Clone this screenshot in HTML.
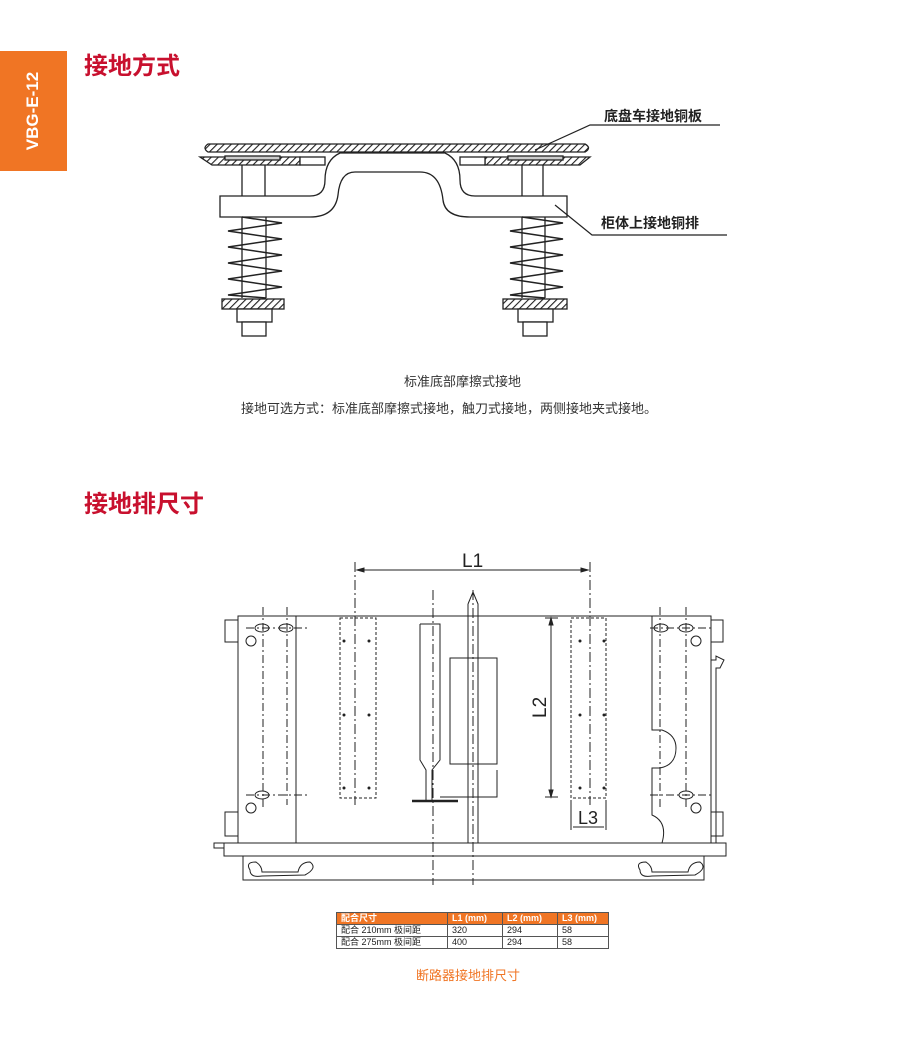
<!DOCTYPE html>
<html><head><meta charset="utf-8"><style>
body{margin:0;background:#fff;width:911px;height:1053px;overflow:hidden;position:relative;font-family:"Liberation Sans","Noto Sans CJK SC",sans-serif}
.tab{position:absolute;left:0;top:51px;width:67px;height:120px;background:#f07524}
.tab span{position:absolute;left:33px;top:60px;transform:translate(-50%,-50%) rotate(-90deg);color:#fff;font-weight:bold;font-size:17px;white-space:nowrap}
h2{position:absolute;margin:0;color:#c8102e;font-size:24px;font-weight:bold;left:84px}
.t{position:absolute;font-size:13px;color:#333;white-space:nowrap}
table{position:absolute;left:336px;top:912px;border-collapse:collapse;font-size:9px;color:#222}
td{border:1px solid #555;padding:0 4px;height:11px;line-height:11px}
tr.h td{background:#f07524;color:#fff;font-weight:bold}
</style></head><body>
<div class="tab"><span>VBG-E-12</span></div>
<h2 style="top:46px">接地方式</h2>
<h2 style="top:484px">接地排尺寸</h2>
<svg width="911" height="1053" style="position:absolute;left:0;top:0" fill="none" stroke="#222" stroke-width="1.3">
<defs><pattern id="hat" width="5" height="5" patternUnits="userSpaceOnUse" patternTransform="rotate(45)"><rect width="5" height="5" fill="#fff" stroke="none"/><line x1="0" y1="0" x2="0" y2="5" stroke="#222" stroke-width="2.2"/></pattern></defs>
<!-- top plate -->
<path d="M208 144 L585 144 Q592 148 585 152 L208 152 Q202 148 208 144Z" fill="url(#hat)"/>
<path d="M200 157 L300 157 L300 165 L212 165Z" fill="url(#hat)"/>
<rect x="300" y="157" width="25" height="8" fill="#fff"/>
<path d="M485 157 L590 157 L580 165 L485 165Z" fill="url(#hat)"/>
<rect x="460" y="157" width="25" height="8" fill="#fff"/>
<rect x="225" y="156" width="55" height="4" fill="#ccc"/><rect x="508" y="156" width="55" height="4" fill="#ccc"/>
<!-- posts -->
<path d="M242 165V196M265 165V196M522 165V196M543 165V196"/>
<!-- bar -->
<path d="M220 196 L310 196 Q325 196 325 180 Q325 160 340 153 L445 153 Q460 160 460 180 Q460 196 475 196 L567 196 L567 217 L470 217 Q445 217 443 200 Q440 172 420 172 L355 172 Q340 172 338 195 Q335 217 310 217 L220 217Z" fill="#fff"/>
<!-- springs -->
<path d="M242 217 L282 223 L228 231 L282 239 L228 247 L282 255 L228 263 L282 271 L228 279 L282 287 L228 295 L266 298" stroke-width="1.5"/>
<path d="M242 217V298M266 217V298"/>
<path d="M522 217 L563 223 L510 231 L563 239 L510 247 L563 255 L510 263 L563 271 L510 279 L563 287 L510 295 L545 298" stroke-width="1.5"/>
<path d="M522 217V298M545 217V298"/>
<rect x="222" y="299" width="62" height="10" fill="url(#hat)"/><rect x="503" y="299" width="64" height="10" fill="url(#hat)"/>
<rect x="237" y="309" width="35" height="13" fill="#fff"/><rect x="242" y="322" width="24" height="14" fill="#fff"/>
<rect x="518" y="309" width="35" height="13" fill="#fff"/><rect x="523" y="322" width="24" height="14" fill="#fff"/>
<path d="M535 150 L590 125 L720 125M555 205 L592 235 L727 235" stroke-width="1.2"/>
<!-- bottom drawing -->
<g stroke-width="1">
<rect x="238" y="616" width="473" height="227"/>
<path d="M296 616V843"/>
<path d="M652 616 L652 730 L662 730 Q676 735 676 748 Q676 765 660 768 L652 768 L652 815 Q668 822 662 843"/>
<rect x="224" y="843" width="502" height="13"/><rect x="243" y="856" width="461" height="24"/>
<rect x="214" y="843" width="10" height="5"/>
<rect x="225" y="620" width="13" height="22"/><rect x="225" y="812" width="13" height="24"/>
<rect x="711" y="620" width="12" height="22"/><rect x="711" y="812" width="12" height="24"/>
<path d="M711 660 L716 660 L716 656 L724 660 L720 668 L716 668 L716 843"/>
<ellipse cx="262" cy="628" rx="7" ry="4"/><ellipse cx="286" cy="628" rx="7" ry="4"/><ellipse cx="262" cy="795" rx="7" ry="4"/>
<circle cx="251" cy="641" r="5"/><circle cx="251" cy="808" r="5"/>
<ellipse cx="661" cy="628" rx="7" ry="4"/><ellipse cx="686" cy="628" rx="7" ry="4"/><ellipse cx="686" cy="795" rx="7" ry="4"/>
<circle cx="696" cy="641" r="5"/><circle cx="696" cy="808" r="5"/>
<path d="M263 607V810M287 607V805M660 607V810M686 607V810M246 628H310M246 795H310M650 628H712M650 795H712" stroke-dasharray="8,3,2,3"/>
<rect x="340" y="618" width="36" height="180" stroke-dasharray="3,2"/><rect x="571" y="618" width="35" height="180" stroke-dasharray="3,2"/>
<path d="M355 562V805M590 562V805M433 590V885M473 590V885" stroke-dasharray="10,3,2,3"/>
<path d="M357 570H588" /><path d="M357 570l7-2v4zM588 570l-7-2v4z" fill="#222"/>
<path d="M551 618V797M545 618H558M545 797H558"/><path d="M551 618l-2 7h4zM551 797l-2-7h4z" fill="#222"/>
<path d="M571 800V830M606 800V830M573 827H604"/>
<path d="M420 624H440V760L432 770V800M420 624V760L426 770V800M450 658H497V764H450ZM497 770V797H440"/>
<path d="M468 604L473 592L478 604V843M468 604V843"/>
<path d="M412 801H458" stroke-width="2.5"/>
<path d="M250 870 Q245 862 256 862 Q262 866 262 872 L298 872 Q300 862 310 862 Q318 868 305 875 L262 876 Q250 878 250 870Z"/>
<path d="M640 870 Q635 862 646 862 Q652 866 652 872 L688 872 Q690 862 700 862 Q708 868 695 875 L652 876 Q640 878 640 870Z"/>
</g>
<g fill="#222" stroke="none"><circle cx="344" cy="641" r="1.5"/><circle cx="369" cy="641" r="1.5"/><circle cx="344" cy="715" r="1.5"/><circle cx="369" cy="715" r="1.5"/><circle cx="344" cy="788" r="1.5"/><circle cx="369" cy="788" r="1.5"/>
<circle cx="580" cy="641" r="1.5"/><circle cx="604" cy="641" r="1.5"/><circle cx="580" cy="715" r="1.5"/><circle cx="604" cy="715" r="1.5"/><circle cx="580" cy="788" r="1.5"/><circle cx="604" cy="788" r="1.5"/></g>
<g fill="#222" stroke="none" font-family="Liberation Sans,sans-serif">
<text x="462" y="567" font-size="19">L1</text>
<text x="578" y="824" font-size="18">L3</text>
<text transform="translate(546,718) rotate(-90)" font-size="19">L2</text>
<text x="604" y="121" font-size="14" font-weight="bold" font-family="Liberation Sans,Noto Sans CJK SC,sans-serif">底盘车接地铜板</text>
<text x="601" y="228" font-size="14" font-weight="bold" font-family="Liberation Sans,Noto Sans CJK SC,sans-serif">柜体上接地铜排</text>
</g>
</svg>
<div class="t" style="left:404px;top:371px">标准底部摩擦式接地</div>
<div class="t" style="left:241px;top:398px">接地可选方式：标准底部摩擦式接地，触刀式接地，两侧接地夹式接地。</div>
<table>
<tr class="h"><td style="width:102px">配合尺寸</td><td style="width:46px">L1 (mm)</td><td style="width:46px">L2 (mm)</td><td style="width:42px">L3 (mm)</td></tr>
<tr><td>配合 210mm 极间距</td><td>320</td><td>294</td><td>58</td></tr>
<tr><td>配合 275mm 极间距</td><td>400</td><td>294</td><td>58</td></tr>
</table>
<div class="t" style="left:416px;top:965px;color:#f07524">断路器接地排尺寸</div>
</body></html>
